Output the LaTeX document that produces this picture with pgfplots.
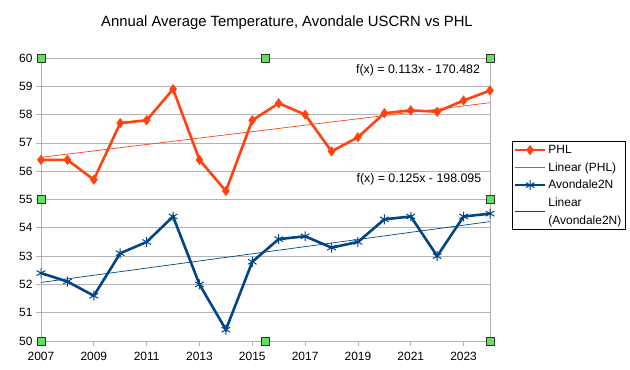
\documentclass[border=0pt]{standalone}
\usepackage{pgfplots}
\pgfplotsset{compat=1.18}
\usepackage{fontspec}
\setmainfont{Liberation Sans}
\definecolor{phl}{HTML}{FF420E}
\definecolor{avd}{HTML}{004586}
\definecolor{gridc}{HTML}{B3B3B3}
\definecolor{handle}{HTML}{5FE35F}
\begin{document}
\begin{tikzpicture}[x=1bp,y=1bp]
\path[use as bounding box] (0,0) rectangle (630,369);
\node[font=\fontsize{14.9}{16}\selectfont] at (287,346) {Annual Average Temperature, Avondale USCRN vs PHL};
\begin{axis}[
  at={(41bp,28bp)}, anchor=south west,
  scale only axis, width=449bp, height=283bp,
  xmin=2007, xmax=2024, ymin=50, ymax=60,
  xtick={2007,2009,...,2023}, ytick={50,51,...,60},
  /pgf/number format/1000 sep={},
  /pgf/number format/assume math mode=true,
  ticklabel style={font=\fontsize{12}{14}\selectfont, text=black},
  xticklabel style={yshift=-2.5bp},
  axis line style={gridc, line width=0.8pt},
  tick style={gridc, line width=0.8pt},
  tick align=outside, major tick length=5bp,
  xtick pos=bottom, ytick pos=left,
  ymajorgrids, grid style={gridc, line width=0.8pt},
  clip=false,
  legend image code/.code={\draw[mark repeat=2,mark phase=2,#1] plot coordinates {(0bp,0bp) (15bp,0bp) (30bp,0bp)};},
  legend style={at={(1.048,0.707)}, anchor=north west, draw=black, line width=0.6pt,
    font=\fontsize{12}{18}\selectfont, cells={anchor=west, align=left},
    inner sep=2pt, row sep=3.5bp},
  legend cell align=left,
]
\addplot[phl, line width=2.6pt, mark=diamond*, mark size=4.5pt, mark options={solid, fill=phl, line width=0.8pt}] coordinates {
(2007,56.4) (2008,56.4) (2009,55.7) (2010,57.7) (2011,57.8) (2012,58.9) (2013,56.4) (2014,55.3) (2015,57.8)
(2016,58.4) (2017,58.0) (2018,56.7) (2019,57.2) (2020,58.05) (2021,58.15) (2022,58.1) (2023,58.5) (2024,58.85)};
\addlegendentry{PHL}
\addplot[phl, line width=0.7pt] coordinates {(2007,56.49) (2024,58.42)};
\addlegendentry{Linear (PHL)}
\addplot[avd, line width=2.6pt, mark=asterisk, mark size=5pt, mark options={solid, line width=1pt}] coordinates {
(2007,52.4) (2008,52.1) (2009,51.6) (2010,53.1) (2011,53.5) (2012,54.4) (2013,52.0) (2014,50.4) (2015,52.8)
(2016,53.6) (2017,53.7) (2018,53.3) (2019,53.5) (2020,54.3) (2021,54.4) (2022,53.0) (2023,54.4) (2024,54.5)};
\addlegendentry{Avondale2N}
\addplot[avd, line width=0.7pt] coordinates {(2007,52.07) (2024,54.22)};
\addlegendentry{Linear\\(Avondale2N)}
\addplot[only marks, mark=square*, mark size=3.8pt, mark options={fill=handle, draw=black!80, line width=0.5pt}, forget plot] coordinates {
(2007,60) (2015.5,60) (2024,60) (2007,55) (2024,55) (2007,50) (2015.5,50) (2024,50)};
\node[anchor=east, font=\fontsize{12.4}{14}\selectfont] at (axis cs:2023.75,59.55) {f(x) = 0.113x - 170.482};
\node[anchor=east, font=\fontsize{12.4}{14}\selectfont] at (axis cs:2023.8,55.73) {f(x) = 0.125x - 198.095};
\end{axis}
\end{tikzpicture}
\end{document}
